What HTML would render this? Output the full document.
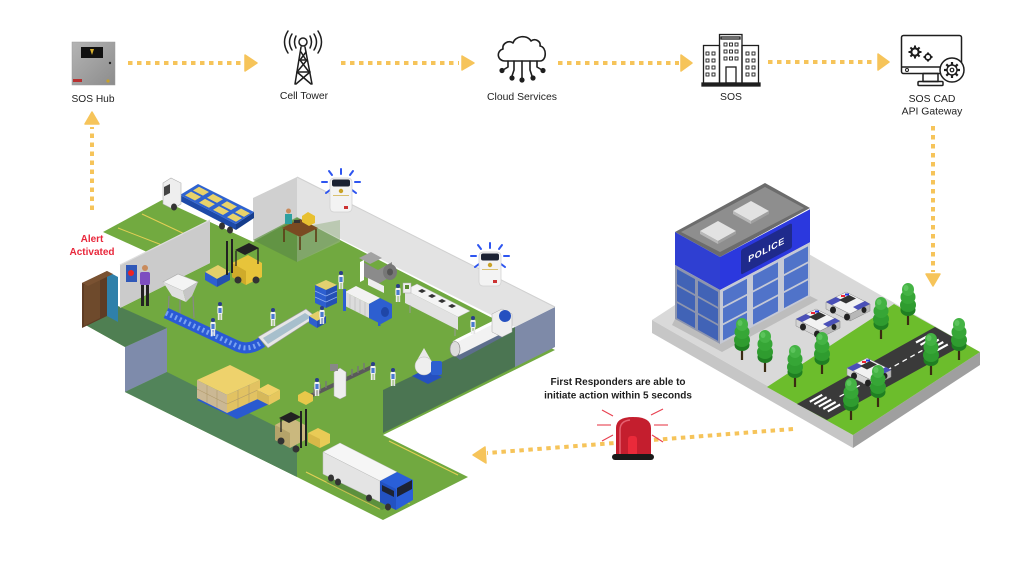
<!DOCTYPE html>
<html><head><meta charset="utf-8">
<style>
html,body{margin:0;padding:0;background:#fff;}
svg{display:block;}
text{font-family:"Liberation Sans",Arial,sans-serif;}
</style></head><body>
<svg width="1024" height="576" viewBox="0 0 1024 576" xmlns="http://www.w3.org/2000/svg">
<defs>
  <g id="tree">
    <rect x="-1.1" y="24" width="2.2" height="18" fill="#3b2b12"/>
    <ellipse cx="0" cy="27" rx="7.5" ry="6" fill="#1f7f22"/>
    <ellipse cx="0" cy="22" rx="8" ry="7" fill="#2f9c2f"/>
    <ellipse cx="0" cy="14" rx="7.5" ry="7" fill="#36a636"/>
    <ellipse cx="0" cy="6.5" rx="6" ry="6.5" fill="#44b344"/>
    <ellipse cx="-2" cy="5" rx="2.5" ry="3" fill="#5cc45c"/>
  </g>
  <g id="car">
    <polygon points="4,12 24,2 48,14 28,24" fill="#f2f2f2" stroke="#888" stroke-width="0.5"/>
    <polygon points="4,12 28,24 28,31 4,19" fill="#d4d4d4" stroke="#888" stroke-width="0.5"/>
    <polygon points="28,24 48,14 48,21 28,31" fill="#b8b8b8" stroke="#888" stroke-width="0.5"/>
    <polygon points="31,17 43,11 48,14 36,20" fill="#4a50b8"/>
    <polygon points="4,12 14,7 20,10 10,15" fill="#4a50b8"/>
    <polygon points="17,10 27,5 34,8.5 24,13.5" fill="#333"/>
    <rect x="19" y="5" width="4" height="2" fill="#e23"/>
    <rect x="23" y="3.5" width="4" height="2" fill="#23d"/>
    <ellipse cx="11" cy="20" rx="3" ry="3.5" fill="#222"/>
    <ellipse cx="25" cy="27" rx="3" ry="3.5" fill="#222"/>
    <ellipse cx="42" cy="20" rx="2.5" ry="3" fill="#222"/>
  </g>
  <g id="worker">
    <circle cx="0" cy="2" r="2" fill="#2a3e8a"/>
    <rect x="-2.6" y="4" width="5.2" height="8" rx="1" fill="#f4f4f4"/>
    <rect x="-1.6" y="6" width="3.2" height="5" fill="#4a7ad0"/>
    <rect x="-2.2" y="12" width="1.8" height="6" fill="#eeeeee"/>
    <rect x="0.4" y="12" width="1.8" height="6" fill="#e4e4e4"/>
  </g>
  <g id="sosdev">
    <g stroke="#2e55f0" stroke-width="2" stroke-linecap="round">
      <line x1="0" y1="-9" x2="0" y2="-4"/>
      <line x1="-12" y1="-7" x2="-9" y2="-3"/>
      <line x1="12" y1="-7" x2="9" y2="-3"/>
      <line x1="-19" y1="4" x2="-14" y2="4"/>
      <line x1="19" y1="4" x2="14" y2="4"/>
      <line x1="-15" y1="15" x2="-11" y2="12"/>
      <line x1="15" y1="15" x2="11" y2="12"/>
    </g>
    <rect x="-11" y="0" width="22" height="34" rx="4" fill="#f3f3f3" stroke="#cfcfcf" stroke-width="0.7"/>
    <rect x="-9" y="1.5" width="18" height="7" rx="2" fill="#1b2233"/>
    <circle cx="0" cy="13" r="2.2" fill="#c9a227"/>
    <rect x="-8" y="17" width="16" height="1" fill="#d8c070"/>
    <rect x="3" y="28" width="4" height="3" fill="#c33"/>
  </g>
</defs>

<!-- ============ TOP ROW ICONS ============ -->
<!-- SOS Hub box -->
<defs>
  <linearGradient id="hubg" x1="0" y1="0" x2="1" y2="1">
    <stop offset="0" stop-color="#b4b4b4"/><stop offset="1" stop-color="#8c8c8c"/>
  </linearGradient>
</defs>
<rect x="72" y="42" width="43" height="43" fill="url(#hubg)" stroke="#9a9a9a" stroke-width="0.5"/>
<rect x="81" y="47" width="22" height="11" fill="#111"/>
<path d="M90,49 L94,49 L92,55 Z" fill="#d8b030"/>
<circle cx="110" cy="63" r="1.2" fill="#222"/>
<rect x="73" y="79" width="9" height="3" fill="#b83030"/>
<circle cx="108" cy="81" r="1.6" fill="#c9a227"/>
<text x="93" y="102" font-size="10.2" fill="#222" text-anchor="middle">SOS Hub</text>

<!-- Cell tower -->
<g fill="none" stroke="#1e1e1e" stroke-width="1.5" stroke-linecap="round">
  <circle cx="303" cy="42" r="4"/>
  <line x1="301" y1="47" x2="295" y2="84"/>
  <line x1="305" y1="47" x2="312" y2="84"/>
  <line x1="301" y1="52" x2="306" y2="60"/>
  <line x1="306" y1="52" x2="300" y2="60"/>
  <line x1="300" y1="60" x2="309" y2="72"/>
  <line x1="307" y1="60" x2="297" y2="72"/>
  <line x1="297" y1="72" x2="311" y2="84"/>
  <line x1="310" y1="72" x2="296" y2="84"/>
  <line x1="300" y1="60" x2="307" y2="60"/>
  <line x1="297" y1="72" x2="310" y2="72"/>
  <path d="M296,36 Q293,42 296,48"/>
  <path d="M310,36 Q313,42 310,48"/>
  <path d="M292,34 Q287,42 292,50"/>
  <path d="M314,34 Q319,42 314,50"/>
  <path d="M288,31 Q281,42 288,53"/>
  <path d="M318,31 Q325,42 318,53"/>
</g>
<text x="304" y="99" font-size="10.4" fill="#222" text-anchor="middle">Cell Tower</text>

<!-- Cloud services -->
<g fill="none" stroke="#1e1e1e" stroke-width="1.6" stroke-linecap="round" stroke-linejoin="round">
  <path d="M505,61 C497,61 496,51 503,49 C502,43 509,40 513,43 C515,36 527,34 531,41 C535,38 541,41 540,46 C547,47 547,61 540,61 Z"/>
  <path d="M508,61 L508,67 L503,70"/>
  <path d="M514,61 L514,70 L512,76"/>
  <path d="M522,61 L522,78"/>
  <path d="M530,61 L530,70 L532,76"/>
  <path d="M537,61 L537,67 L542,70"/>
</g>
<g fill="#1e1e1e">
  <circle cx="502" cy="70.5" r="2.6"/><circle cx="512" cy="78" r="2.6"/><circle cx="522" cy="80" r="2.6"/>
  <circle cx="533" cy="78" r="2.6"/><circle cx="543" cy="70.5" r="2.6"/>
</g>
<text x="522" y="100" font-size="10.4" fill="#222" text-anchor="middle">Cloud Services</text>

<!-- SOS building icon -->
<g fill="none" stroke="#1e1e1e" stroke-width="1.3">
  <rect x="719.5" y="34.5" width="22.5" height="49"/>
  <rect x="703.5" y="45.5" width="16" height="38"/>
  <rect x="742" y="45.5" width="16.5" height="38"/>
  <rect x="702" y="83" width="58" height="3" fill="#1e1e1e"/>
  <rect x="726" y="67" width="10" height="16"/>
  <rect x="721" y="37" width="19" height="2"/>
</g>
<g fill="none" stroke="#1e1e1e" stroke-width="0.9">
  <rect x="724" y="43" width="3" height="3"/><rect x="729.5" y="43" width="3" height="3"/><rect x="735" y="43" width="3" height="3"/>
  <rect x="724" y="50" width="3" height="3"/><rect x="729.5" y="50" width="3" height="3"/><rect x="735" y="50" width="3" height="3"/>
  <rect x="724" y="57" width="3" height="3"/><rect x="729.5" y="57" width="3" height="3"/><rect x="735" y="57" width="3" height="3"/>
  <rect x="706" y="52" width="3" height="3"/><rect x="712" y="52" width="3" height="3"/>
  <rect x="706" y="59" width="3" height="3"/><rect x="712" y="59" width="3" height="3"/>
  <rect x="706" y="66" width="3" height="3"/><rect x="712" y="66" width="3" height="3"/>
  <rect x="706" y="73" width="3" height="3"/><rect x="712" y="73" width="3" height="3"/>
  <rect x="746" y="52" width="3" height="3"/><rect x="752" y="52" width="3" height="3"/>
  <rect x="746" y="59" width="3" height="3"/><rect x="752" y="59" width="3" height="3"/>
  <rect x="746" y="66" width="3" height="3"/><rect x="752" y="66" width="3" height="3"/>
  <rect x="746" y="73" width="3" height="3"/><rect x="752" y="73" width="3" height="3"/>
</g>
<text x="731" y="100" font-size="10.4" fill="#222" text-anchor="middle">SOS</text>

<!-- Monitor icon -->
<g fill="none" stroke="#1e1e1e" stroke-width="1.5" stroke-linejoin="round">
  <rect x="901.5" y="35.5" width="60" height="38" rx="2"/>
  <line x1="902" y1="67" x2="950" y2="67"/>
  <rect x="923" y="73.5" width="15" height="8"/>
  <rect x="918" y="81.5" width="25" height="4" rx="1"/>
</g>
<circle cx="907" cy="70" r="1.5" fill="none" stroke="#1e1e1e" stroke-width="1"/>
<g fill="none" stroke="#1e1e1e" stroke-width="1.4">
  <circle cx="915" cy="52" r="4"/><circle cx="915" cy="52" r="1.5"/>
  <circle cx="928" cy="57" r="3"/><circle cx="928" cy="57" r="1"/>
</g>
<g stroke="#1e1e1e" stroke-width="2">
  <line x1="915" y1="45.5" x2="915" y2="58.5"/><line x1="908.5" y1="52" x2="921.5" y2="52"/>
  <line x1="910.4" y1="47.4" x2="919.6" y2="56.6"/><line x1="919.6" y1="47.4" x2="910.4" y2="56.6"/>
  <line x1="928" y1="52.5" x2="928" y2="61.5"/><line x1="923.5" y1="57" x2="932.5" y2="57"/>
</g>
<circle cx="928" cy="57" r="2.6" fill="#fff" stroke="#1e1e1e" stroke-width="1.2"/>
<circle cx="915" cy="52" r="3.2" fill="#fff" stroke="#1e1e1e" stroke-width="1.2"/>
<circle cx="952" cy="70" r="12" fill="#fff" stroke="#1e1e1e" stroke-width="1.5"/>
<g stroke="#1e1e1e" stroke-width="2.2">
  <line x1="952" y1="62" x2="952" y2="78"/><line x1="944" y1="70" x2="960" y2="70"/>
  <line x1="946.3" y1="64.3" x2="957.7" y2="75.7"/><line x1="957.7" y1="64.3" x2="946.3" y2="75.7"/>
</g>
<circle cx="952" cy="70" r="5" fill="#fff" stroke="#1e1e1e" stroke-width="1.4"/>
<circle cx="952" cy="70" r="1.8" fill="none" stroke="#1e1e1e" stroke-width="1.2"/>
<text x="932" y="102" font-size="10.4" fill="#222" text-anchor="middle">SOS CAD</text>
<text x="932" y="114.5" font-size="10.4" fill="#222" text-anchor="middle">API Gateway</text>

<!-- Top arrows -->
<g stroke="#f6c45a" stroke-width="4" stroke-dasharray="4.5 4.5" fill="none">
  <line x1="128" y1="63" x2="243" y2="63"/>
  <line x1="341" y1="63" x2="459" y2="63"/>
  <line x1="558" y1="63" x2="679" y2="63"/>
  <line x1="768" y1="62" x2="876" y2="62"/>
  <line x1="933" y1="126" x2="933" y2="272"/>
  <line x1="92" y1="210" x2="92" y2="127"/>
</g>
<g fill="#f6c45a" stroke="#f6c45a" stroke-width="1.5" stroke-linejoin="round">
  <polygon points="245,55 257,63 245,71"/>
  <polygon points="462,56 474,63 462,70"/>
  <polygon points="681,55 692,63 681,71"/>
  <polygon points="878,54 889,62 878,70"/>
  <polygon points="926,274 933,286 940,274"/>
  <polygon points="85,124 92,112 99,124"/>
</g>

<!-- Alert Activated -->
<text x="92" y="242" font-size="10" font-weight="bold" fill="#e8273b" text-anchor="middle">Alert</text>
<text x="92" y="255" font-size="10" font-weight="bold" fill="#e8273b" text-anchor="middle">Activated</text>

<!-- ============ FACTORY ============ -->
<!-- parking strip -->
<polygon points="103,232 162,200 253,242 210,263 147,252" fill="#72aa40"/>
<line x1="118" y1="228" x2="180" y2="252" stroke="#e3cf55" stroke-width="1"/>
<line x1="142" y1="214" x2="206" y2="244" stroke="#e3cf55" stroke-width="1"/>
<!-- main floor -->
<polygon points="120,308 210,263 210,222 253,242 297,218 555,350 383,435 468,477 383,520 297,477 125,392 125,347 82,323" fill="#71a940"/>
<!-- corridor lines -->
<line x1="306" y1="472" x2="380" y2="509" stroke="#e3cf55" stroke-width="1.1"/>
<line x1="389" y1="441" x2="458" y2="475" stroke="#e3cf55" stroke-width="1.1"/>
<line x1="330" y1="464" x2="410" y2="504" stroke="#e3cf55" stroke-width="1" opacity="0.6"/>
<!-- dark regions -->
<polygon points="82,323 118,306 167,328 125,347" fill="#4f7f52"/>
<polygon points="125,347 167,328 167,372 125,392" fill="#7e8bab"/>
<polygon points="125,392 167,372 297,437 297,477" fill="#52845a"/>
<polygon points="383,390 515,327 515,367 383,433" fill="#4b7552"/>
<polygon points="515,327 555,307 555,347 515,367" fill="#7e8aa8"/>
<!-- long back wall -->
<polygon points="297,177 555,307 515,327 297,217" fill="#e3e3e3"/>
<line x1="297" y1="177" x2="555" y2="307" stroke="#d0d0d0" stroke-width="1"/>
<!-- office -->
<polygon points="253,198 297,177 297,217 253,240" fill="#d0d0d0"/>
<polygon points="253,240 297,217 340,240 297,262" fill="#5f8f45" opacity="0.8"/>
<polygon points="297,228 340,220 340,242 297,262" fill="#9bb58a" opacity="0.55"/>
<polygon points="282,228 300,219 318,228 300,237" fill="#7a4a22"/>
<line x1="284" y1="229" x2="284" y2="242" stroke="#5a3410" stroke-width="1.5"/>
<line x1="300" y1="237" x2="300" y2="250" stroke="#5a3410" stroke-width="1.5"/>
<line x1="316" y1="229" x2="316" y2="242" stroke="#5a3410" stroke-width="1.5"/>
<rect x="285" y="214" width="7" height="10" fill="#2fa0a0"/>
<circle cx="288.5" cy="211" r="2.5" fill="#c98b5c"/>
<polygon points="302,216 308,212 315,216 315,223 309,226 302,222" fill="#e8c030"/>
<rect x="294" y="220" width="6" height="3" fill="#333"/>
<!-- left wall -->
<polygon points="120,265 210,220 210,263 120,308" fill="#cbcbcb"/>
<line x1="120" y1="265" x2="210" y2="220" stroke="#dedede" stroke-width="1.2"/>
<!-- cabinet -->
<polygon points="82,283 107,271 107,316 82,328" fill="#5e3c24"/>
<polygon points="84,285 100,277 100,318 84,326" fill="#6e4a2c"/>
<polygon points="107,271 118,277 118,322 107,316" fill="#2f80aa"/>
<polygon points="82,283 107,271 113,274 88,286" fill="#7a5232"/>
<!-- panel + person -->
<rect x="126" y="265" width="11" height="17" fill="#3058b8"/>
<circle cx="131" cy="273" r="3" fill="#e22"/>
<circle cx="145" cy="268" r="3" fill="#c98b5c"/>
<rect x="140" y="272" width="10" height="13" rx="2" fill="#7d4ec0"/>
<rect x="141" y="285" width="3" height="21" fill="#222"/>
<rect x="146" y="285" width="3" height="21" fill="#222"/>

<!-- top truck -->
<polygon points="180,195 236,224 236,230 180,201" fill="#1d4aa8"/>
<polygon points="236,224 254,212 254,218 236,230" fill="#163d8c"/>
<polygon points="180,195 198,184 254,212 236,224" fill="#2f63d0"/>
<g transform="matrix(1,0.518,1,-0.611,180,195)" fill="#e8d26a">
  <rect x="3" y="2" width="10" height="6"/><rect x="17" y="2" width="10" height="6"/>
  <rect x="31" y="2" width="10" height="6"/><rect x="45" y="2" width="9" height="6"/>
  <rect x="3" y="10" width="10" height="6"/><rect x="17" y="10" width="10" height="6"/>
  <rect x="31" y="10" width="10" height="6"/><rect x="45" y="10" width="9" height="6"/>
</g>
<polygon points="163,183 171,178 181,183 181,204 173,209 163,204" fill="#eeeeee" stroke="#b0b0b0" stroke-width="0.6"/>
<polygon points="164,187 170,184 170,193 164,196" fill="#444"/>
<ellipse cx="174" cy="207" rx="3" ry="3.5" fill="#333"/>
<ellipse cx="222" cy="226" rx="3" ry="3.5" fill="#333"/>
<ellipse cx="230" cy="230" rx="3" ry="3.5" fill="#333"/>

<!-- forklift top -->
<polygon points="205,272 218,265 230,272 217,279" fill="#e4cf6a"/>
<polygon points="205,272 217,279 217,287 205,280" fill="#2e5fcf"/>
<polygon points="217,279 230,272 230,280 217,287" fill="#244fb0"/>
<polygon points="232,263 248,255 262,263 262,277 246,285 232,277" fill="#e7c43a"/>
<polygon points="232,263 246,271 246,285 232,277" fill="#cfab2a"/>
<rect x="226" y="241" width="2" height="34" fill="#222"/>
<rect x="231" y="239" width="2" height="34" fill="#222"/>
<polygon points="235,250 249,243 259,248 245,255" fill="#222"/>
<line x1="236" y1="251" x2="236" y2="266" stroke="#222" stroke-width="1.3"/>
<line x1="258" y1="248" x2="258" y2="264" stroke="#222" stroke-width="1.3"/>
<circle cx="238" cy="280" r="3.5" fill="#333"/><circle cx="256" cy="280" r="3.5" fill="#333"/>

<!-- hopper -->
<g stroke="#888" stroke-width="1.2">
  <line x1="169" y1="296" x2="168" y2="318"/><line x1="193" y1="296" x2="194" y2="318"/>
  <line x1="180" y1="300" x2="180" y2="320"/>
</g>
<polygon points="163,282 178,274 198,282 183,291" fill="#f4f4f4" stroke="#aaa" stroke-width="0.6"/>
<polygon points="163,282 183,291 186,302 172,296" fill="#e0e0e0"/>
<polygon points="183,291 198,282 192,296 186,302" fill="#c6c6c6"/>

<!-- blue conveyor -->
<path d="M166,313 L235,345 Q248,352 262,342" stroke="#2a5ad6" stroke-width="11" fill="none"/>
<path d="M166,313 L235,345 Q248,352 262,342" stroke="#7aa2f0" stroke-width="5" stroke-dasharray="2 3" fill="none"/>
<polygon points="258,337 306,309 316,317 268,348" fill="#e6e6e6" stroke="#999" stroke-width="0.6"/>
<polygon points="263,338 305,313 311,317 268,344" fill="#a7bfcc"/>
<polygon points="309,316 318,311 326,316 317,321" fill="#e4cf6a"/>
<polygon points="309,316 317,321 317,328 309,323" fill="#2e5fcf"/>
<polygon points="317,321 326,316 326,323 317,328" fill="#244fb0"/>

<!-- grinder -->
<polygon points="359,258 371,252 382,258 370,264" fill="#a2a2a2"/>
<polygon points="363,262 378,270 392,262 392,276 378,284 363,276" fill="#8b8b8b"/>
<ellipse cx="390" cy="272" rx="7" ry="8" fill="#777"/>
<ellipse cx="390" cy="272" rx="3" ry="3.5" fill="#555"/>
<polygon points="368,278 384,286 384,293 368,285" fill="#eee"/>
<polygon points="360,262 364,260 364,280 360,282" fill="#fff"/>

<!-- crates stack -->
<polygon points="315,285 326,280 337,285 326,290" fill="#e2d070"/>
<polygon points="315,285 326,290 326,308 315,303" fill="#2d5fd0"/>
<polygon points="326,290 337,285 337,303 326,308" fill="#2450b5"/>
<g stroke="#8fb0f0" stroke-width="0.7">
  <line x1="315" y1="291" x2="326" y2="296"/><line x1="315" y1="297" x2="326" y2="302"/>
  <line x1="326" y1="296" x2="337" y2="291"/><line x1="326" y1="302" x2="337" y2="297"/>
</g>

<!-- filter press -->
<polygon points="345,292 356,286 380,298 369,304" fill="#f2f2f2"/>
<polygon points="345,292 369,304 369,318 345,306" fill="#dcdcdc"/>
<g stroke="#b8b8b8" stroke-width="0.6">
  <line x1="350" y1="295" x2="350" y2="308"/><line x1="355" y1="297" x2="355" y2="311"/>
  <line x1="360" y1="300" x2="360" y2="313"/><line x1="365" y1="302" x2="365" y2="316"/>
</g>
<polygon points="369,304 380,298 392,304 392,318 381,324 369,318" fill="#2d5fd0"/>
<ellipse cx="385" cy="312" rx="4" ry="5" fill="#1f46a8"/>
<rect x="343" y="289" width="3" height="22" fill="#2d5fd0"/>
<rect x="378" y="318" width="2.5" height="8" fill="#2d5fd0"/>

<!-- long white machine -->
<polygon points="405,290 417,284 470,311 458,317" fill="#f4f4f4" stroke="#bbb" stroke-width="0.5"/>
<polygon points="405,290 458,317 458,330 405,303" fill="#e2e2e2"/>
<g fill="#333">
  <polygon points="418,291 422,289 426,291 422,293"/><polygon points="428,296 432,294 436,296 432,298"/>
  <polygon points="438,301 442,299 446,301 442,303"/><polygon points="448,306 452,304 456,306 452,308"/>
</g>
<g stroke="#999" stroke-width="1"><line x1="410" y1="305" x2="410" y2="313"/><line x1="455" y1="328" x2="455" y2="336"/></g>
<rect x="403" y="283" width="8" height="10" fill="#eee" stroke="#aaa" stroke-width="0.5"/>
<rect x="405" y="285" width="4" height="4" fill="#5a8a30"/>

<!-- cylinder machine -->
<polygon points="450,352 500,327 510,333 460,360" fill="#5d6e8c"/>
<line x1="456" y1="348" x2="500" y2="326" stroke="#f2f2f2" stroke-width="15" stroke-linecap="butt"/>
<line x1="456" y1="341" x2="500" y2="319" stroke="#ffffff" stroke-width="3"/>
<ellipse cx="455" cy="349" rx="5" ry="7.5" fill="#dcdcdc" stroke="#888" stroke-width="0.6"/>
<polygon points="492,314 502,309 512,314 512,332 502,337 492,332" fill="#eeeeee" stroke="#aaa" stroke-width="0.5"/>
<ellipse cx="505" cy="316" rx="6" ry="6" fill="#2550c0"/>

<!-- centrifuge -->
<polygon points="412,376 428,384 442,377 426,369" fill="#2550c0"/>
<path d="M416,362 L424,348 L432,362 Z" fill="#e8e8e8"/>
<ellipse cx="424" cy="366" rx="9" ry="9" fill="#eeeeee" stroke="#bbb" stroke-width="0.5"/>
<rect x="431" y="361" width="11" height="14" rx="2" fill="#2d5fd0"/>

<!-- bottling line -->
<line x1="306" y1="398" x2="374" y2="366" stroke="#5a5a5a" stroke-width="4"/>
<g stroke="#777" stroke-width="1.4">
  <line x1="314" y1="394" x2="314" y2="387"/><line x1="320" y1="391" x2="320" y2="384"/>
  <line x1="326" y1="388" x2="326" y2="381"/><line x1="346" y1="379" x2="346" y2="372"/>
  <line x1="352" y1="376" x2="352" y2="369"/><line x1="358" y1="373" x2="358" y2="366"/>
  <line x1="364" y1="370" x2="364" y2="363"/>
</g>
<polygon points="334,372 340,368 346,372 346,396 340,399 334,396" fill="#eeeeee" stroke="#aaa" stroke-width="0.5"/>
<rect x="330" y="364" width="8" height="7" fill="#888"/>
<polygon points="298,395 305,391 313,395 313,401 306,405 298,401" fill="#e8c84a"/>

<!-- boxes + pallets -->
<polygon points="197,400 240,380 280,399 237,419" fill="#2a5ad0"/>
<polygon points="197,380 230,365 260,380 227,395" fill="#eed26c"/>
<polygon points="197,380 227,395 227,413 197,398" fill="#cbb894"/>
<polygon points="227,395 260,380 260,398 227,413" fill="#e2c262"/>
<g stroke="#b09a6a" stroke-width="0.6">
  <line x1="207" y1="385" x2="207" y2="403"/><line x1="217" y1="390" x2="217" y2="408"/>
  <line x1="197" y1="389" x2="227" y2="404"/>
  <line x1="238" y1="390" x2="238" y2="408"/><line x1="249" y1="385" x2="249" y2="403"/>
  <line x1="227" y1="404" x2="260" y2="389"/>
</g>
<polygon points="257,390 268,384 280,390 269,396" fill="#f0d268"/>
<polygon points="257,390 269,396 269,405 257,399" fill="#d6b85a"/>
<polygon points="269,396 280,390 280,399 269,405" fill="#e6c75e"/>

<!-- forklift bottom -->
<polygon points="275,425 290,417 305,425 305,440 290,448 275,440" fill="#cab87e"/>
<polygon points="275,425 290,433 290,448 275,440" fill="#b5a36a"/>
<polygon points="279,418 291,412 301,417 289,423" fill="#222"/>
<line x1="281" y1="419" x2="281" y2="432" stroke="#222" stroke-width="1.3"/>
<rect x="300" y="411" width="2" height="37" fill="#222"/>
<rect x="305" y="409" width="2" height="37" fill="#222"/>
<polygon points="308,433 318,428 330,434 330,443 320,448 308,442" fill="#eacb56"/>
<polygon points="308,433 320,439 320,448 308,442" fill="#d8b848"/>
<circle cx="281" cy="441" r="3.5" fill="#333"/><circle cx="296" cy="449" r="3.5" fill="#333"/>

<!-- bottom truck -->
<polygon points="326,482 382,510 412,498 356,470" fill="#3e6b3a" opacity="0.4"/>
<polygon points="323,452 340,443 397,472 380,481" fill="#f6f6f6" stroke="#c8c8c8" stroke-width="0.5"/>
<polygon points="323,452 380,481 380,502 323,474" fill="#e4e4e4" stroke="#bdbdbd" stroke-width="0.5"/>
<polygon points="380,481 397,472 413,480 413,500 396,510 380,502" fill="#2a5fd8"/>
<polygon points="380,481 396,489 396,510 380,502" fill="#2352c2"/>
<polygon points="397,488 412,480 412,489 397,497" fill="#1d2333"/>
<polygon points="382,485 394,491 394,497 382,491" fill="#1d2333"/>
<ellipse cx="331" cy="478" rx="3" ry="3.5" fill="#333"/>
<ellipse cx="338" cy="482" rx="3" ry="3.5" fill="#333"/>
<ellipse cx="369" cy="498" rx="3" ry="3.5" fill="#333"/>
<ellipse cx="388" cy="507" rx="3" ry="3.5" fill="#333"/>

<!-- workers -->
<use href="#worker" x="220" y="302"/>
<use href="#worker" x="213" y="318"/>
<use href="#worker" x="273" y="308"/>
<use href="#worker" x="322" y="306"/>
<use href="#worker" x="341" y="271"/>
<use href="#worker" x="398" y="284"/>
<use href="#worker" x="473" y="316"/>
<use href="#worker" x="317" y="378"/>
<use href="#worker" x="373" y="362"/>
<use href="#worker" x="393" y="368"/>

<!-- SOS devices -->
<use href="#sosdev" x="341" y="178"/>
<use href="#sosdev" x="490" y="252"/>

<!-- ============ POLICE STATION ============ -->
<polygon points="652,320 779,237 980,352 853,435" fill="#d9d9d9"/>
<polygon points="652,320 853,435 853,448 652,333" fill="#c6c6c6"/>
<polygon points="853,435 980,352 980,365 853,448" fill="#9f9f9f"/>
<polygon points="767,387 894,304 980,352 853,435" fill="#6cbd2c"/>
<!-- road -->
<polygon points="797,404 827,420 965,344 935,327" fill="#3a3a3a"/>
<line x1="839.6" y1="396.6" x2="922.4" y2="350.4" stroke="#fff" stroke-width="1.3" stroke-dasharray="5 4"/>
<g stroke="#fff" stroke-width="2.2">
  <line x1="809.8" y1="401.8" x2="822.2" y2="394.8"/>
  <line x1="814.3" y1="404.2" x2="826.7" y2="397.2"/>
  <line x1="818.8" y1="406.6" x2="831.2" y2="399.6"/>
  <line x1="823.3" y1="409" x2="835.7" y2="402"/>
  <line x1="827.8" y1="411.4" x2="840.2" y2="404.4"/>
  <line x1="916" y1="342.5" x2="929.8" y2="334.8"/>
  <line x1="920.5" y1="344.9" x2="934.3" y2="337.2"/>
  <line x1="925" y1="347.3" x2="938.8" y2="339.6"/>
  <line x1="929.5" y1="349.7" x2="943.3" y2="342"/>
  <line x1="934" y1="352.1" x2="947.8" y2="344.4"/>
</g>
<!-- building shadow -->
<polygon points="675,319 720,344 810,296 818,300 722,352 672,325" fill="#bdbdbd"/>
<!-- building -->
<polygon points="675,232 765,183 810,208 720,257" fill="#6c6c6c"/>
<polygon points="681,232 765,187 804,208 720,252" fill="#8e8e8e"/>
<polygon points="700,231 718,221 736,231 718,241" fill="#e2e2e2"/>
<polygon points="700,231 718,241 718,244 700,234" fill="#b8b8b8"/>
<polygon points="718,241 736,231 736,234 718,244" fill="#a0a0a0"/>
<polygon points="733,211 751,201 769,211 751,221" fill="#e2e2e2"/>
<polygon points="733,211 751,221 751,224 733,214" fill="#b8b8b8"/>
<polygon points="751,221 769,211 769,214 751,224" fill="#a0a0a0"/>
<!-- left face -->
<g transform="matrix(1,0.556,0,1,675,232)">
  <rect x="0" y="0" width="45" height="33" fill="#2f3fd2"/>
  <rect x="0" y="33" width="45" height="54" fill="#8d95ae"/>
  <rect x="2" y="36" width="18" height="15" fill="#4163b6"/>
  <rect x="23" y="36" width="20" height="15" fill="#4163b6"/>
  <rect x="2" y="53" width="18" height="15" fill="#4163b6"/>
  <rect x="23" y="53" width="20" height="15" fill="#4163b6"/>
  <rect x="2" y="70" width="18" height="15" fill="#4163b6"/>
  <rect x="23" y="70" width="20" height="15" fill="#4163b6"/>
</g>
<!-- right face -->
<g transform="matrix(1,-0.53,0,1,720,257)">
  <rect x="0" y="0" width="90" height="33" fill="#2b38de"/>
  <rect x="0" y="33" width="90" height="54" fill="#c5c9d6"/>
  <rect x="3" y="36" width="24" height="15" fill="#5073c9"/>
  <rect x="33" y="36" width="25" height="15" fill="#5073c9"/>
  <rect x="64" y="36" width="24" height="15" fill="#5073c9"/>
  <rect x="3" y="53" width="24" height="15" fill="#5073c9"/>
  <rect x="33" y="53" width="25" height="15" fill="#5073c9"/>
  <rect x="64" y="53" width="24" height="15" fill="#5073c9"/>
  <rect x="3" y="70" width="24" height="15" fill="#5073c9"/>
  <rect x="33" y="70" width="25" height="15" fill="#5073c9"/>
  <rect x="64" y="70" width="24" height="15" fill="#5073c9"/>
  <rect x="21" y="4" width="51" height="25" rx="2" fill="#1f2a8c"/>
  <text x="46.5" y="20.5" font-size="9" font-weight="bold" fill="#ffffff" text-anchor="middle" letter-spacing="0.5">POLICE</text>
</g>

<!-- cars & trees -->
<use href="#car" x="822" y="290"/>
<use href="#car" x="792" y="307"/>
<use href="#tree" x="908" y="283"/>
<use href="#tree" x="881" y="297"/>
<use href="#tree" x="742" y="318"/>
<use href="#tree" x="959" y="318"/>
<use href="#tree" x="765" y="330"/>
<use href="#tree" x="822" y="332"/>
<use href="#tree" x="931" y="333"/>
<use href="#tree" x="795" y="345"/>
<use href="#car" x="843" y="356"/>
<use href="#tree" x="878" y="365"/>
<use href="#tree" x="851" y="378"/>

<!-- ============ BOTTOM ARROW & SIREN ============ -->
<line x1="793" y1="429" x2="487" y2="453" stroke="#f6c45a" stroke-width="4" stroke-dasharray="4.5 4.5"/>
<polygon points="485,447 473,455 486,463" fill="#f6c45a" stroke="#f6c45a" stroke-width="1.5" stroke-linejoin="round"/>

<g stroke="#e8404f" stroke-width="1.1">
  <line x1="602" y1="410" x2="613" y2="416"/>
  <line x1="597" y1="425" x2="611" y2="425"/>
  <line x1="602" y1="441" x2="613" y2="435"/>
  <line x1="651" y1="415" x2="663" y2="409"/>
  <line x1="654" y1="425" x2="668" y2="425"/>
  <line x1="652" y1="435" x2="663" y2="442"/>
</g>
<path d="M616,456 L616,428 Q616,417 633,417 Q651,417 651,428 L651,456 Z" fill="#c41e2e"/>
<path d="M620,455 L620,430 Q620,421 630,420" fill="none" stroke="#e56070" stroke-width="1.5"/>
<rect x="628" y="436" width="9" height="20" rx="3" fill="#ea2a3a"/>
<rect x="612" y="454" width="42" height="6" rx="3" fill="#1a1a1a"/>

<text x="618" y="385" font-size="10" font-weight="bold" fill="#1e1e1e" text-anchor="middle">First Responders are able to</text>
<text x="618" y="398.5" font-size="10" font-weight="bold" fill="#1e1e1e" text-anchor="middle">initiate action within 5 seconds</text>
</svg>
</body></html>
